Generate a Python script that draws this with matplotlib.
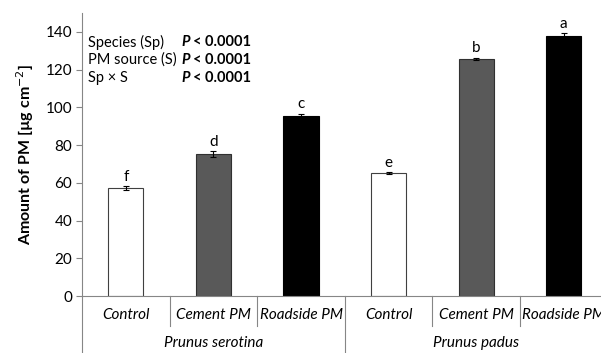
import numpy as np
import matplotlib.pyplot as plt
import matplotlib.transforms as mtransforms

plt.rcParams['font.family'] = ['Lato', 'DejaVu Sans']

species = ['Prunus serotina', 'Prunus padus']
treatments = ['Control', 'Cement PM', 'Roadside PM']
values = [57.2, 75.2, 95.2, 65.0, 125.8, 138.0]
errors = [0.9, 1.5, 1.4, 0.5, 0.5, 1.5]
letters = ['f', 'd', 'c', 'e', 'b', 'a']
colors = ['white', '#595959', 'black'] * 2
edges = ['#404040', '#303030', 'black'] * 2

W, H = 601, 353
fig = plt.figure(figsize=(W / 100, H / 100), dpi=100)
# axes run slightly past the right edge, as in the original
ax = fig.add_axes([82 / W, (H - 296) / H, 525.6 / W, (296 - 13) / H])

x = np.arange(len(values))
ax.bar(x, values, width=0.4, color=colors, edgecolor=edges, linewidth=0.8, zorder=2)
ax.errorbar(x, values, yerr=errors, fmt='none', ecolor='black', elinewidth=0.8,
            capsize=2.5, capthick=0.8, zorder=3)
for xi, v, e, l in zip(x, values, errors, letters):
    ax.text(xi, v + e + 1.2, l, ha='center', va='bottom', fontsize=11)

ax.set_xlim(-0.5, len(values) - 0.5)
ax.set_ylim(0, 150)
ax.set_yticks(np.arange(0, 141, 20))
ax.tick_params(axis='y', labelsize=11, length=4, color='#868686', pad=3)
ax.set_xticks([])
for s in ['top', 'right']:
    ax.spines[s].set_visible(False)
ax.spines['left'].set_color('#868686')
ax.spines['bottom'].set_color('#868686')
ax.set_ylabel('Amount of PM [µg cm$^{-2}$]', fontsize=11.5, fontweight='bold', labelpad=7)

# category separators below the axis
trans = mtransforms.blended_transform_factory(ax.transData, ax.transAxes)
bottom_ax = -(H - 296) / (296 - 13)
short_ax = -30 / (296 - 13)
ax.plot([-0.5, -0.5], [0, bottom_ax], color='#868686', lw=0.8, transform=trans, clip_on=False)
for b in [0.5, 1.5, 3.5, 4.5]:
    ax.plot([b, b], [0, short_ax], color='#868686', lw=0.8, transform=trans, clip_on=False)
ax.plot([2.5, 2.5], [0, bottom_ax], color='#868686', lw=0.8, transform=trans, clip_on=False)

for i, t in enumerate(treatments * 2):
    ax.text(i, -19 / (296 - 13), t, transform=trans, ha='center', va='center',
            fontsize=11, style='italic')
for j, sp in enumerate(species):
    ax.text(j * 3 + 1, -47 / (296 - 13), sp, transform=trans, ha='center', va='center',
            fontsize=11, style='italic')

# statistics box
stats = ['Species (Sp)', 'PM source (S)', 'Sp × S']
for k, s in enumerate(stats):
    yy = (42 + 18 * k)
    fig.text(88 / W, 1 - yy / H, s, ha='left', va='center', fontsize=10.5)
    fig.text(181 / W, 1 - yy / H, 'P', ha='left', va='center', fontsize=10.5,
             fontweight='bold', style='italic')
    fig.text(193 / W, 1 - yy / H, '< 0.0001', ha='left', va='center', fontsize=10.5,
             fontweight='bold')

fig.savefig('out.png', dpi=100)
